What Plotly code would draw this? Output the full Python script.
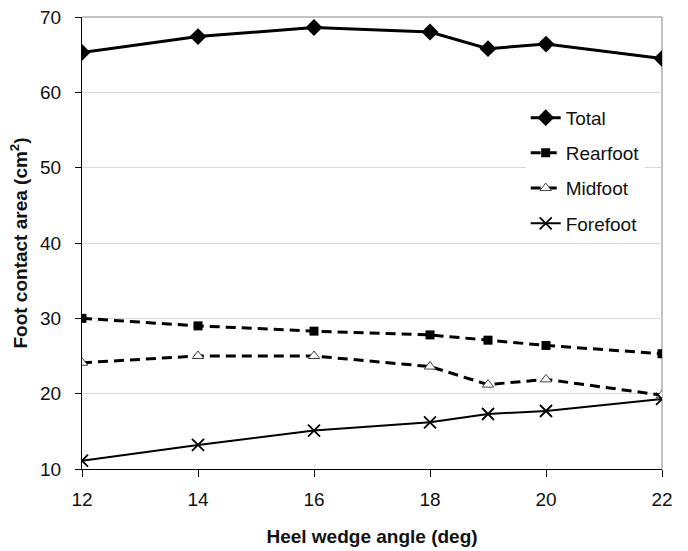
import plotly.graph_objects as go

angles = [12, 14, 16, 18, 19, 20, 22]
total = [65.3, 67.4, 68.6, 68.0, 65.8, 66.4, 64.5]
rearfoot = [30.0, 29.0, 28.3, 27.8, 27.1, 26.4, 25.3]
midfoot = [24.1, 25.0, 25.0, 23.6, 21.2, 21.9, 19.8]
forefoot = [11.1, 13.2, 15.1, 16.2, 17.3, 17.7, 19.3]
x_ticks = [12, 14, 16, 18, 20, 22]
y_ticks = [10, 20, 30, 40, 50, 60, 70]

FONT = "Liberation Sans, Arial, sans-serif"
DASH = "10px,6px"

fig = go.Figure()
fig.add_trace(go.Scatter(
    x=angles, y=total, name="Total", mode="lines+markers", legendgroup="a",
    line=dict(color="black", width=3),
    marker=dict(symbol="diamond", size=13, color="black")))
fig.add_trace(go.Scatter(
    x=angles, y=rearfoot, name="Rearfoot", mode="lines+markers", legendgroup="b",
    line=dict(color="black", width=3, dash=DASH),
    marker=dict(symbol="square", size=9, color="black")))
fig.add_trace(go.Scatter(
    x=angles, y=midfoot, name="Midfoot", mode="lines+markers", legendgroup="c",
    line=dict(color="black", width=3, dash=DASH),
    marker=dict(symbol="triangle-up", size=10, color="white",
                line=dict(color="#444444", width=1))))
fig.add_trace(go.Scatter(
    x=angles, y=forefoot, name="Forefoot", mode="lines+markers", legendgroup="d",
    line=dict(color="black", width=2),
    marker=dict(symbol="x-thin", size=12, color="black",
                line=dict(color="black", width=1.8))))

# light gray frame on top and right
fig.add_shape(type="line", xref="paper", yref="paper", x0=0, x1=1, y0=1, y1=1,
              line=dict(color="#868686", width=1), layer="below")
fig.add_shape(type="line", xref="paper", yref="paper", x0=1, x1=1, y0=0, y1=1,
              line=dict(color="#868686", width=1), layer="below")

fig.update_layout(
    width=688, height=551,
    margin=dict(l=82, r=26, t=17, b=82, autoexpand=False),
    paper_bgcolor="white", plot_bgcolor="white",
    font=dict(family=FONT, size=19, color="#111111"),
    showlegend=True,
    legend=dict(x=0.765, y=0.819, xanchor="left", yanchor="top",
                bgcolor="white", borderwidth=0, tracegroupgap=7.5,
                font=dict(size=19, color="#111111"), traceorder="grouped"),
    xaxis=dict(range=[12, 22], tickvals=x_ticks, showgrid=False, zeroline=False,
               automargin=False,
               showline=True, linecolor="black", linewidth=1.3,
               ticks="outside", ticklen=7, tickcolor="black", tickwidth=1,
               ticklabelstandoff=6,
               title=dict(text="<b>Heel wedge angle (deg)</b>", standoff=20,
                          font=dict(size=19))),
    yaxis=dict(range=[10, 70], tickvals=y_ticks, showgrid=True, gridcolor="#d9d9d9",
               gridwidth=1, zeroline=False, automargin=False,
               showline=True, linecolor="black", linewidth=1.3,
               ticks="outside", ticklen=6, tickcolor="black", tickwidth=1,
               ticklabelstandoff=10,
               title=dict(text="<b>Foot contact area (cm<sup>2</sup>)</b>", standoff=7,
                          font=dict(size=19))),
)

fig.write_html("out.html")
